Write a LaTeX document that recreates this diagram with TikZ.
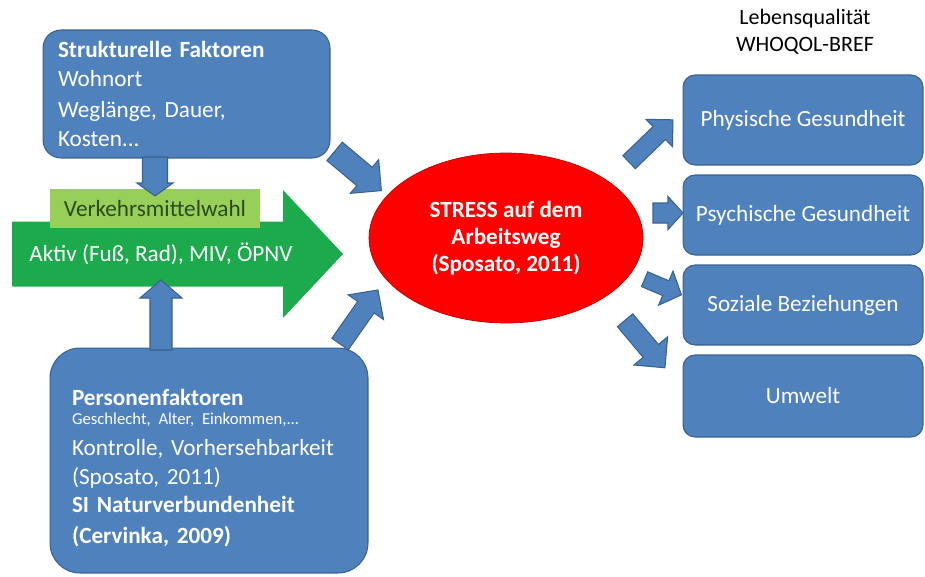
\documentclass[tikz,border=0pt]{standalone}
\usepackage{fontspec}
\setmainfont{Carlito}
\usepackage{tikz}
\usetikzlibrary{shapes.geometric}
\definecolor{boxblue}{HTML}{4F81BD}
\definecolor{boxline}{HTML}{3A6190}
\definecolor{arrgreen}{HTML}{1CAA4C}
\definecolor{lightgreen}{HTML}{98CF58}
\definecolor{wahltext}{HTML}{2C4A1E}
\newcommand\boxfont{\fontsize{13.2}{16.5}\selectfont}
% #1 style, #2 centre, #3 angle, #4 length, #5 shaft, #6 head width, #7 head length
\newcommand\barrow[7][barr]{%
\begin{scope}[shift={#2},rotate=#3]
\filldraw[#1] ({-#4/2},{-#5/2})--({#4/2-#7},{-#5/2})--({#4/2-#7},{-#6/2})--({#4/2},0)
 --({#4/2-#7},{#6/2})--({#4/2-#7},{#5/2})--({-#4/2},{#5/2})--cycle;
\end{scope}}

\begin{document}
\begin{tikzpicture}[x=0.02cm,y=-0.02cm,
 box/.style={draw=boxline,fill=boxblue,text=white,line width=0.6pt,font=\boxfont},
 qbox/.style={box,rounded corners=0.24cm,minimum width=4.8cm},
 barr/.style={draw=boxline,fill=boxblue,line width=0.6pt,line join=miter},
 garr/.style={draw=none,fill=arrgreen}]
\useasboundingbox (0,0) rectangle (925,576);
% Verkehrsmittelwahl
\barrow[garr]{(177.5,254)}{0}{331}{65}{128}{60}
\node at (161,254) [text=white,font=\boxfont] (modtxt) {Aktiv (Fuß, Rad), MIV, ÖPNV};
\node at (155,208.5) [fill=lightgreen,minimum width=4.2cm,minimum height=0.78cm,text=wahltext,font=\boxfont] (wahl) {Verkehrsmittelwahl};
% Faktoren
\node at (186.5,94) [box,rounded corners=0.36cm,minimum height=2.56cm,text width=5.14cm,inner xsep=0.3cm,align=left] (struk)
 {\textbf{Strukturelle Faktoren}\\Wohnort\\[1pt]Weglänge, Dauer,\\Kosten...};
\node at (209,460.5) [box,rounded corners=0.6cm,minimum height=4.5cm,text width=5.48cm,inner xsep=0.44cm,align=left] (person)
 {\rule{0pt}{18pt}\textbf{Personenfaktoren}\\[-5.7pt]{\fontsize{9.5}{11}\selectfont Geschlecht, Alter, Einkommen,...}\\[1pt]Kontrolle, Vorhersehbarkeit\\(Sposato, 2011)\\[-0.5pt]\textbf{SI Naturverbundenheit}\\[1pt]\textbf{(Cervinka, 2009)}};
% Stress
\node at (506,238) [ellipse,draw=red!75!black,fill=red,minimum width=5.48cm,minimum height=3.4cm,text=white,align=center,font=\fontsize{13.2}{15.5}\selectfont\bfseries] (stress)
 {STRESS auf dem\\Arbeitsweg\\(Sposato, 2011)};
% Lebensqualitaet
\node at (805,32) [align=center,font=\fontsize{12.5}{15.5}\selectfont] (lq) {Lebensqualität\\WHOQOL-BREF};
\node at (803,120) [qbox,minimum height=1.8cm] (phys) {Physische Gesundheit};
\node at (803,215) [qbox,minimum height=1.6cm] (psych) {Psychische Gesundheit};
\node at (803,305) [qbox,minimum height=1.6cm] (sozial) {Soziale Beziehungen};
\node at (803,396) [qbox,minimum height=1.64cm] (umwelt) {Umwelt};
% Blockpfeile
\barrow{(155,176.5)}{-90}{39}{25}{36}{13}
\barrow{(161,315)}{90}{70}{22}{42}{18}
\barrow{(358,171)}{-40}{61}{24}{44}{22}
\barrow{(359,317)}{55}{66}{20}{43}{21}
\barrow{(651,141)}{44}{61}{18}{38}{19}
\barrow{(668,213)}{0}{30}{20}{33}{15}
\barrow{(663,287)}{-23}{40}{16}{37}{17}
\barrow{(645,344)}{-50}{62}{20}{44}{22}
\end{tikzpicture}
\end{document}
